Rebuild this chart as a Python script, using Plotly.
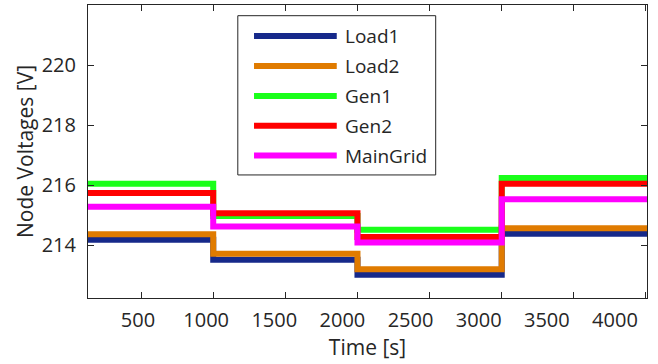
import plotly.graph_objects as go

# ---- data ----
step_times = [0, 1000, 2000, 3000, 4400]
series_names = ["Load1", "Load2", "Gen1", "Gen2", "MainGrid"]
series_colors = ["#16298a", "#e07b00", "#1aff1a", "#ff0000", "#ff00ff"]
load1 = [214.19, 213.52, 213.02, 214.39]
load2 = [214.37, 213.72, 213.21, 214.57]
gen1 = [216.05, 214.98, 214.52, 216.24]
gen2 = [215.74, 215.07, 214.28, 216.05]
maingrid = [215.29, 214.63, 214.10, 215.54]
series_values = [load1, load2, gen1, gen2, maingrid]

x_ticks = [500, 1000, 1500, 2000, 2500, 3000, 3500, 4000]
x_tick_labels = [str(v) for v in x_ticks]
y_ticks = [214, 216, 218, 220]
y_tick_labels = [str(v) for v in y_ticks]

axis_color = "#262626"
font_family = "Open Sans, DejaVu Sans, sans-serif"

fig = go.Figure()
for name, color, vals in zip(series_names, series_colors, series_values):
    fig.add_trace(go.Scatter(
        x=step_times, y=vals + [vals[-1]], mode="lines", name=name,
        line=dict(color=color, width=6, shape="hv"), showlegend=False,
    ))
# empty trace to host the label axis
fig.add_trace(go.Scatter(x=[], y=[], xaxis="x2", showlegend=False, hoverinfo="skip"))

fig.update_layout(
    width=658, height=364,
    margin=dict(l=88, r=11, t=5, b=66, autoexpand=False),
    paper_bgcolor="white", plot_bgcolor="white",
    font=dict(family=font_family, color=axis_color, size=20),
    xaxis=dict(
        range=[132, 4007], tickvals=x_ticks, showticklabels=False,
        ticks="inside", ticklen=6, tickcolor=axis_color, tickwidth=1,
        showline=True, linecolor=axis_color, linewidth=1, mirror="ticks",
        showgrid=False, zeroline=False, automargin=False,
    ),
    xaxis2=dict(
        overlaying="x", anchor="y", side="bottom",
        range=[133, 4235], tickvals=x_ticks, ticktext=x_tick_labels,
        ticks="", showline=False, showgrid=False, zeroline=False,
        tickfont=dict(size=20), ticklabelstandoff=8, automargin=False,
        title=dict(text="Time [s]", font=dict(size=21), standoff=2),
    ),
    yaxis=dict(
        range=[212.25, 222.0], tickvals=y_ticks, ticktext=y_tick_labels,
        ticks="inside", ticklen=6, tickcolor=axis_color, tickwidth=1,
        showline=True, linecolor=axis_color, linewidth=1, mirror="ticks",
        showgrid=False, zeroline=False, tickfont=dict(size=20),
        ticklabelstandoff=7, automargin=False,
        title=dict(text="Node Voltages [V]", font=dict(size=21), standoff=2),
    ),
)

# custom legend (long line samples like the original)
box_x0, box_x1, box_y0, box_y1 = 0.268, 0.622, 0.42, 0.9635
line_x0, line_x1, text_x = 0.297, 0.445, 0.457
row_y = [0.894, 0.792, 0.689, 0.588, 0.486]
fig.add_shape(type="rect", xref="paper", yref="paper", x0=box_x0, x1=box_x1,
              y0=box_y0, y1=box_y1, line=dict(color=axis_color, width=1),
              fillcolor="white", layer="above")
for name, color, ry in zip(series_names, series_colors, row_y):
    fig.add_shape(type="line", xref="paper", yref="paper", x0=line_x0, x1=line_x1,
                  y0=ry, y1=ry, line=dict(color=color, width=6), layer="above")
    fig.add_annotation(xref="paper", yref="paper", x=text_x, y=ry, text=name,
                       showarrow=False, xanchor="left", yanchor="middle",
                       font=dict(size=19, color=axis_color, family=font_family))

fig.write_html("out.html", config={"displayModeBar": False},
               post_script="document.body.style.margin='0';document.body.style.overflow='hidden';")
